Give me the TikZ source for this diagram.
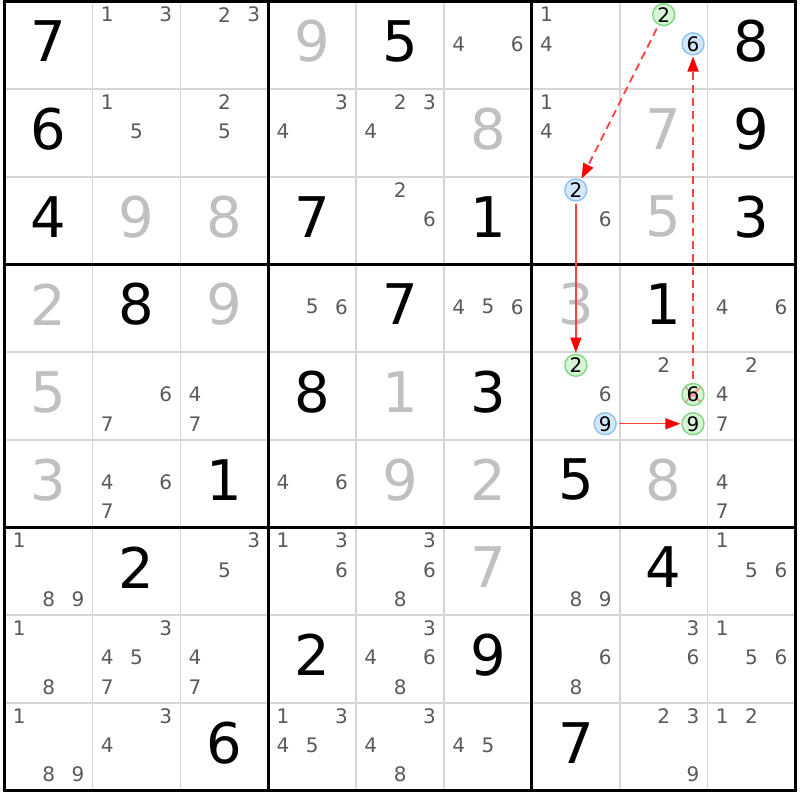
\documentclass[tikz,border=0pt]{standalone}
\usepackage{fontspec}
\setmainfont{DejaVu Sans}
\usetikzlibrary{arrows.meta}
\definecolor{candgray}{HTML}{5A5A5A}
\definecolor{solvedgray}{HTML}{C0C0C0}
\definecolor{gridgray}{HTML}{D6D6D6}
\definecolor{gfill}{HTML}{D5F5D5}
\definecolor{gline}{HTML}{80D880}
\definecolor{bfill}{HTML}{D3E7FB}
\definecolor{bline}{HTML}{8EC3F5}
\definecolor{linkred}{HTML}{FF4040}
\definecolor{xred}{HTML}{F49A9A}
\newcommand\setcand[3]{%
  \pgfmathsetmacro\cx{4.7+(#2-1)*87.87+(mod(#3-1,3)+0.5)*29.29}%
  \pgfmathsetmacro\cy{1.5+(#1-1)*87.67+(floor((#3-1)/3)+0.5)*29.22-1.5}}
\begin{document}
\begin{tikzpicture}[x=1pt,y=-1pt,
  thingrid/.style={draw=gridgray, line width=1.6pt},
  thickgrid/.style={draw=black, line width=3pt},
  given/.style={inner sep=0pt, font=\fontsize{56}{56}\selectfont, text=black},
  solved/.style={given, text=solvedgray},
  cand/.style={inner sep=0pt, font=\fontsize{20}{20}\selectfont, text=candgray},
  gc/.style={circle, draw=gline, fill=gfill, line width=1.4pt, minimum size=22pt,
    inner sep=0pt, font=\fontsize{20}{20}\selectfont, text=black},
  bc/.style={gc, draw=bline, fill=bfill},
  link/.style={draw=linkred, line width=1.4pt,
    -{Triangle[length=15pt,width=11pt,color=red]}, shorten <=2pt, shorten >=1pt},
  dlink/.style={link, line width=1.8pt, dash pattern=on 8pt off 5pt, shorten <=4pt},
  crossed/.style={path picture={
    \draw[xred, line width=2pt] (path picture bounding box.north west) -- (path picture bounding box.south east)
      (path picture bounding box.north east) -- (path picture bounding box.south west);}}
]
\useasboundingbox (0,0) rectangle (800,800);
\fill[white] (0,0) rectangle (800,800);
% thin grid
\foreach \i in {1,2,4,5,7,8} {
  \draw[thingrid] ({4.7+\i*87.87},1.5) -- ({4.7+\i*87.87},790.5);
  \draw[thingrid] (4.7,{1.5+\i*87.67}) -- (795.5,{1.5+\i*87.67});
}
% thick grid
\foreach \i in {0,3,6,9} {
  \draw[thickgrid] ({4.7+\i*87.87},0) -- ({4.7+\i*87.87},792);
  \draw[thickgrid] (3.2,{1.5+\i*87.67}) -- (797,{1.5+\i*87.67});
}
% givens
\foreach \r/\c/\v in {1/1/7,1/5/5,1/9/8,2/1/6,2/9/9,3/1/4,3/4/7,3/6/1,3/9/3,
  4/2/8,4/5/7,4/8/1,5/4/8,5/6/3,6/3/1,6/7/5,7/2/2,7/8/4,8/4/2,8/6/9,9/3/6,9/7/7}
  \node[given] (g\r\c) at ({4.7+(\c-0.5)*87.87},{1.5+(\r-0.5)*87.67-4}) {\v};
% solved
\foreach \r/\c/\v in {1/4/9,2/6/8,2/8/7,3/2/9,3/3/8,3/8/5,4/1/2,4/3/9,4/7/3,
  5/1/5,5/5/1,6/1/3,6/5/9,6/6/2,6/8/8,7/6/7}
  \node[solved] (s\r\c) at ({4.7+(\c-0.5)*87.87},{1.5+(\r-0.5)*87.67-4}) {\v};
% candidates
\foreach \r/\c/\ds in {1/2/{1,3},1/3/{2,3},1/6/{4,6},1/7/{1,4},
  2/2/{1,5},2/3/{2,5},2/4/{3,4},2/5/{2,3,4},2/7/{1,4},
  3/5/{2,6},3/7/{6},
  4/4/{5,6},4/6/{4,5,6},4/9/{4,6},
  5/2/{6,7},5/3/{4,7},5/7/{6},5/8/{2},5/9/{2,4,7},
  6/2/{4,6,7},6/4/{4,6},6/9/{4,7},
  7/1/{1,8,9},7/3/{3,5},7/4/{1,3,6},7/5/{3,6,8},7/7/{8,9},7/9/{1,5,6},
  8/1/{1,8},8/2/{3,4,5,7},8/3/{4,7},8/5/{3,4,6,8},8/7/{6,8},8/8/{3,6},8/9/{1,5,6},
  9/1/{1,8,9},9/2/{3,4},9/4/{1,3,4,5},9/5/{3,4,8},9/6/{4,5},9/8/{2,3,9},9/9/{1,2}} {
  \foreach \d in \ds {
    \setcand{\r}{\c}{\d}
    \node[cand] (c\r\c\d) at (\cx,\cy) {\d};
  }
}
% highlighted candidates
\setcand{1}{8}{2} \node[gc] (n182) at (\cx,\cy) {2};
\setcand{1}{8}{6} \node[bc] (n186) at (\cx,\cy) {6};
\setcand{3}{7}{2} \node[bc] (n372) at (\cx,\cy) {2};
\setcand{5}{7}{2} \node[gc] (n572) at (\cx,\cy) {2};
\setcand{5}{7}{9} \node[bc] (n579) at (\cx,\cy) {9};
\setcand{5}{8}{6} \node[gc, crossed] (n586) at (\cx,\cy) {6};
\setcand{5}{8}{9} \node[gc] (n589) at (\cx,\cy) {9};
% links
\draw[dlink] (n182) -- (n372);
\draw[link] (n372) -- (n572);
\draw[link] (n579) -- (n589);
\draw[dlink] (n586) -- (n186);
\end{tikzpicture}
\end{document}
